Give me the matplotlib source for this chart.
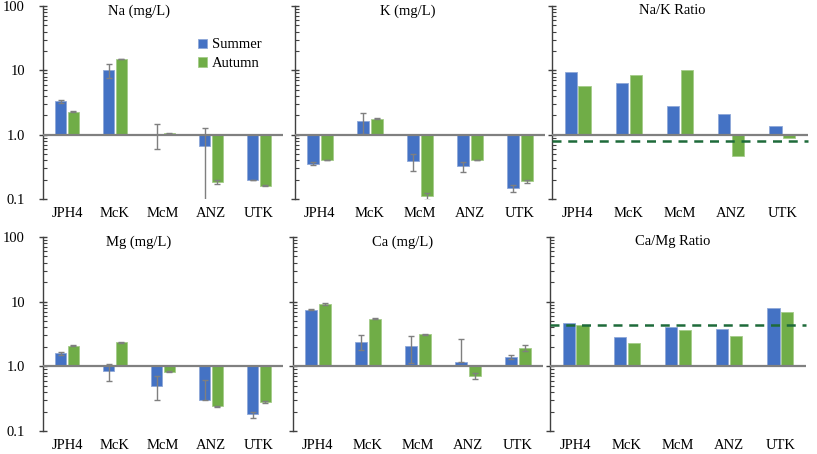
import numpy as np
import matplotlib
matplotlib.use("Agg")
import matplotlib.pyplot as plt
from matplotlib.ticker import FixedLocator, NullFormatter, LogLocator

plt.rcParams['font.family'] = ['Liberation Serif', 'DejaVu Serif']

sites = ['JPH4', 'McK', 'McM', 'ANZ', 'UTK']
season_labels = ['Summer', 'Autumn']

na_summer = [3.30, 10.0, 1.02, 0.66, 0.20]
na_summer_err = [0.15, 2.5, 0.42, 0.60, 0.0]
na_autumn = [2.28, 15.0, 1.06, 0.184, 0.161]
na_autumn_err = [0.04, 0.2, 0.02, 0.015, 0.004]

k_summer = [0.354, 1.61, 0.385, 0.322, 0.148]
k_summer_err = [0.02, 0.6, 0.115, 0.06, 0.02]
k_autumn = [0.404, 1.77, 0.11, 0.404, 0.188]
k_autumn_err = [0.005, 0.03, 0.012, 0.003, 0.01]

nak_summer = [9.42, 6.28, 2.76, 2.07, 1.35]
nak_autumn = [5.78, 8.36, 10.0, 0.472, 0.877]
nak_ref = 0.79

mg_summer = [1.60, 0.85, 0.50, 0.30, 0.18]
mg_summer_err = [0.08, 0.25, 0.20, 0.32, 0.02]
mg_autumn = [2.08, 2.34, 0.83, 0.24, 0.28]
mg_autumn_err = [0.05, 0.04, 0.02, 0.005, 0.01]

ca_summer = [7.53, 2.42, 2.03, 1.15, 1.41]
ca_summer_err = [0.1, 0.65, 0.9, 1.48, 0.1]
ca_autumn = [9.31, 5.48, 3.11, 0.72, 1.92]
ca_autumn_err = [0.3, 0.08, 0.06, 0.08, 0.2]

camg_summer = [4.64, 2.83, 4.12, 3.80, 7.90]
camg_autumn = [4.43, 2.31, 3.71, 2.93, 6.93]
camg_ref = 4.43

BLUE = '#4472C4'
GREEN = '#70AD47'
W, H = 817, 454

fig = plt.figure(figsize=(W / 100, H / 100), dpi=100)

def make_ax(x0, x1, y0, y1):
    return fig.add_axes([x0 / W, 1 - y1 / H, (x1 - x0) / W, (y1 - y0) / H])

panels = [
    (43, 283, 6, 199, 'Na (mg/L)', 0.40, na_summer, na_summer_err, na_autumn, na_autumn_err, None, True),
    (295, 545, 6, 199, 'K (mg/L)', 0.45, k_summer, k_summer_err, k_autumn, k_autumn_err, None, False),
    (552, 808, 6, 199, 'Na/K Ratio', 0.47, nak_summer, None, nak_autumn, None, nak_ref, False),
    (43, 283, 237, 431, 'Mg (mg/L)', 0.40, mg_summer, mg_summer_err, mg_autumn, mg_autumn_err, None, True),
    (293, 543, 237, 431, 'Ca (mg/L)', 0.44, ca_summer, ca_summer_err, ca_autumn, ca_autumn_err, None, False),
    (550, 806, 237, 431, 'Ca/Mg Ratio', 0.48, camg_summer, None, camg_autumn, None, camg_ref, False),
]

x = np.arange(len(sites))
bw = 0.235
off = 0.135

for i, (x0, x1, y0, y1, title, tx, s, se, a, ae, ref, ylab) in enumerate(panels):
    ax = make_ax(x0, x1, y0, y1)
    ax.set_yscale('log')
    ax.set_ylim(0.1, 100)
    ax.set_xlim(-0.5, len(sites) - 0.5)
    s = np.array(s); a = np.array(a)
    b1 = ax.bar(x - off, s - 1, bottom=1, width=bw, color=BLUE, edgecolor='#8FA8D8',
                linewidth=0.6, zorder=2, label=season_labels[0])
    b2 = ax.bar(x + off, a - 1, bottom=1, width=bw, color=GREEN, edgecolor='#A5CC8A',
                linewidth=0.6, zorder=2, label=season_labels[1])
    for xs, v, e in ((x - off, s, se), (x + off, a, ae)):
        if e is None:
            continue
        e = np.array(e)
        lower = np.where(v - e > 0, e, 0)
        ax.errorbar(xs, v, yerr=[lower, e], fmt='none', ecolor='#7F7F7F',
                    elinewidth=1, capsize=2.5, capthick=1, zorder=3)
    ax.axhline(1.0, color='#808080', lw=1.6, zorder=4)
    if ref is not None:
        ax.plot([-0.5, len(sites) - 0.5], [ref, ref], color='#1E6B3A', lw=1.8,
                ls=(0, (3.6, 2.7)), zorder=5, clip_on=False)
    for sp in ('top', 'right', 'bottom'):
        ax.spines[sp].set_visible(False)
    ax.spines['left'].set_color('#404040')
    ax.spines['left'].set_linewidth(1.0)
    ax.yaxis.set_major_locator(FixedLocator([0.1, 1, 10, 100]))
    ax.yaxis.set_minor_locator(LogLocator(base=10, subs=np.arange(2, 10)))
    ax.yaxis.set_minor_formatter(NullFormatter())
    if ylab:
        ax.set_yticklabels(['0.1', '1.0', '10', '100'])
    else:
        ax.set_yticklabels([])
    ax.tick_params(axis='y', which='major', direction='inout', length=6, width=1,
                   color='#404040', labelsize=10.5, pad=10)
    ax.tick_params(axis='y', which='minor', direction='in', length=3, width=0.8,
                   color='#404040')
    ax.set_xticks(x)
    ax.set_xticklabels(sites)
    ax.tick_params(axis='x', length=0, pad=6, labelsize=10.5)
    ax.text(tx, 0.975, title, transform=ax.transAxes, ha='center', va='center', fontsize=10.5)
    if i == 0:
        ax.legend(handles=[b1, b2], loc='center left', bbox_to_anchor=(0.605, 0.75),
                  frameon=False, fontsize=10.5, handlelength=0.6, handleheight=0.6,
                  handletextpad=0.35, labelspacing=0.4, borderpad=0.2)

fig.savefig('out.png', dpi=100)
